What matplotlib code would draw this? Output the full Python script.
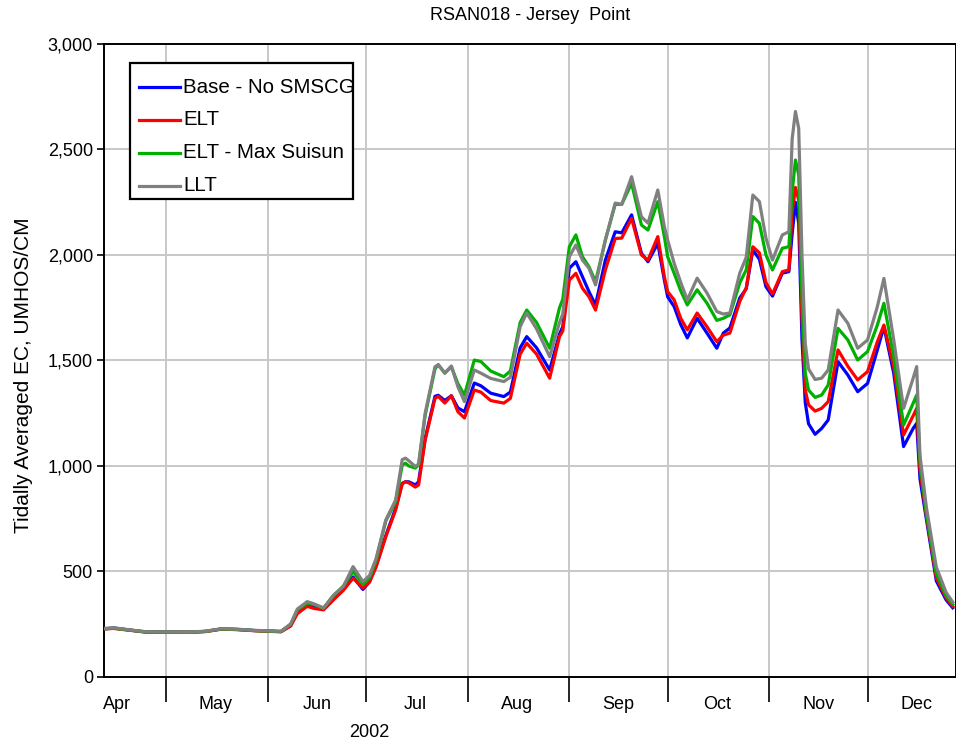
import matplotlib
matplotlib.use('Agg')
import matplotlib.pyplot as plt
import matplotlib.dates as mdates
from matplotlib.patches import Rectangle
from matplotlib.ticker import FuncFormatter, MultipleLocator
import numpy as np

plt.rcParams['font.family'] = ['Liberation Sans', 'DejaVu Sans']

# tidally averaged EC (2002)
dates = ['04-12', '04-15', '04-20', '04-25', '05-01', '05-08', '05-13', '05-18', '05-23', '05-28',
         '06-02', '06-05', '06-08', '06-10', '06-13', '06-15', '06-18', '06-21', '06-24', '06-27',
         '06-30', '07-02', '07-04', '07-07', '07-10', '07-12', '07-13', '07-14', '07-16', '07-17',
         '07-19', '07-22', '07-23', '07-25', '07-27', '07-29', '07-31', '08-03', '08-05', '08-08',
         '08-12', '08-14', '08-17', '08-19', '08-22', '08-26', '08-29', '08-30', '09-01', '09-03',
         '09-05', '09-07', '09-09', '09-12', '09-15', '09-17', '09-20', '09-23', '09-25', '09-28',
         '09-30', '10-01', '10-03', '10-05', '10-07', '10-10', '10-13', '10-16', '10-18', '10-20',
         '10-23', '10-25', '10-27', '10-29', '10-31', '11-02', '11-05', '11-07', '11-08', '11-09',
         '11-10', '11-11', '11-12', '11-13', '11-15', '11-17', '11-19', '11-22', '11-25', '11-28',
         '12-01', '12-04', '12-06', '12-09', '12-12', '12-15', '12-16', '12-17', '12-19', '12-22',
         '12-25', '12-27']

base = [228, 232, 222, 213, 214, 212, 216, 228, 225, 220,
        217, 215, 245, 310, 345, 335, 322, 370, 415, 474,
        415, 450, 525, 670, 800, 918, 925, 925, 910, 925,
        1130, 1330, 1335, 1310, 1333, 1275, 1257, 1393, 1380, 1345,
        1329, 1350, 1560, 1613, 1560, 1455, 1625, 1660, 1937, 1968,
        1897, 1826, 1763, 1976, 2110, 2105, 2190, 2008, 1968, 2055,
        1881, 1802, 1755, 1670, 1607, 1700, 1630, 1558, 1630, 1654,
        1796, 1840, 2024, 1980, 1850, 1805, 1914, 1921, 2100, 2250,
        2150, 1600, 1300, 1200, 1150, 1178, 1218, 1494, 1431, 1352,
        1391, 1550, 1660, 1439, 1092, 1180, 1202, 940, 744, 455,
        365, 328]

elt = [228, 230, 221, 212, 213, 212, 215, 227, 224, 219,
       216, 214, 242, 300, 335, 325, 318, 365, 410, 468,
       422, 450, 520, 665, 791, 915, 925, 920, 900, 910,
       1123, 1320, 1330, 1298, 1333, 1257, 1227, 1360, 1350, 1310,
       1298, 1320, 1530, 1582, 1530, 1416, 1613, 1640, 1881, 1913,
       1842, 1802, 1739, 1929, 2078, 2080, 2173, 2000, 1976, 2087,
       1897, 1826, 1787, 1700, 1645, 1725, 1660, 1589, 1620, 1630,
       1779, 1845, 2039, 2010, 1870, 1815, 1921, 1929, 2200, 2320,
       2260, 1700, 1360, 1290, 1260, 1273, 1305, 1550, 1472, 1408,
       1447, 1589, 1668, 1471, 1147, 1240, 1273, 980, 760, 470,
       375, 335]

elt_max = [228, 231, 222, 213, 214, 212, 216, 228, 225, 220,
           217, 216, 250, 318, 350, 343, 326, 385, 430, 500,
           440, 470, 550, 740, 830, 1005, 1013, 1000, 990, 1005,
           1240, 1460, 1480, 1440, 1470, 1390, 1336, 1502, 1495, 1450,
           1423, 1450, 1680, 1739, 1680, 1558, 1750, 1790, 2039, 2095,
           1992, 1944, 1873, 2071, 2240, 2240, 2340, 2142, 2118, 2253,
           2087, 1992, 1913, 1830, 1763, 1835, 1772, 1690, 1700, 1716,
           1867, 1930, 2182, 2150, 2000, 1929, 2032, 2039, 2300, 2450,
           2380, 1800, 1440, 1360, 1325, 1336, 1384, 1652, 1597, 1502,
           1542, 1668, 1771, 1518, 1194, 1300, 1336, 1020, 770, 490,
           385, 345]

llt = [230, 233, 223, 214, 214, 213, 217, 229, 226, 221,
       218, 216, 252, 322, 357, 347, 327, 387, 428, 523,
       452, 480, 560, 744, 839, 1030, 1037, 1025, 997, 1010,
       1250, 1470, 1480, 1440, 1474, 1375, 1305, 1455, 1440, 1415,
       1400, 1420, 1660, 1725, 1650, 1518, 1680, 1720, 1992, 2047,
       1976, 1937, 1858, 2071, 2246, 2240, 2371, 2181, 2151, 2308,
       2134, 2071, 1960, 1870, 1787, 1890, 1820, 1732, 1720, 1725,
       1913, 1990, 2284, 2253, 2080, 1976, 2095, 2110, 2550, 2680,
       2600, 2000, 1580, 1460, 1410, 1416, 1455, 1739, 1676, 1558,
       1597, 1755, 1889, 1597, 1273, 1420, 1471, 1050, 800, 520,
       400, 355]

names = ['Base - No SMSCG', 'ELT', 'ELT - Max Suisun', 'LLT']
colors = ['#0000ff', '#ff0000', '#00b000', '#808080']

x = np.array(['2002-' + d for d in dates], dtype='datetime64[D]')

fig = plt.figure(figsize=(9.56, 7.44), dpi=100)
ax = fig.add_axes([0.1088, 0.0901, 0.8912, 0.8508])

for ys, c in zip([base, elt, elt_max, llt], colors):
    ax.plot(x, ys, color=c, lw=2.3, zorder=3)

ax.set_xlim(np.datetime64('2002-04-12'), np.datetime64('2002-12-28'))
ax.set_ylim(0, 3000)

ax.yaxis.set_major_locator(MultipleLocator(500))
ax.yaxis.set_major_formatter(FuncFormatter(lambda v, p: f'{int(v):,}'))
ax.tick_params(axis='y', labelsize=13, length=5, width=1.2, direction='out', pad=3)

ax.xaxis.set_major_locator(mdates.MonthLocator())
ax.xaxis.set_major_formatter(plt.NullFormatter())
ax.xaxis.set_minor_locator(mdates.MonthLocator(bymonthday=16))
ax.xaxis.set_minor_formatter(mdates.DateFormatter('%b'))
ax.tick_params(axis='x', which='major', length=18, width=1.2, direction='out')
ax.tick_params(axis='x', which='minor', length=0, labelsize=13, pad=14)

ax.grid(True, which='major', color='#c8c8c8', lw=1.4)
ax.set_axisbelow(True)
for s in ax.spines.values():
    s.set_linewidth(1.4)

fig.text(0.5 * (104 + 956) / 956, 1 - 15 / 744, 'RSAN018 - Jersey  Point', fontsize=13,
         ha='center', va='center')
ax.set_ylabel('Tidally Averaged EC, UMHOS/CM', fontsize=15)
ax.yaxis.set_label_coords(-0.083, 0.477)
ax.text(mdates.date2num(np.datetime64('2002-07-02')), -0.0875, '2002', fontsize=13,
        ha='center', va='center', transform=ax.get_xaxis_transform())

# legend box drawn by hand so the long entry can run past the frame
ax.add_patch(Rectangle((0.0305, 0.755), 0.2615, 0.215, transform=ax.transAxes,
                       facecolor='white', edgecolor='black', lw=1.6, zorder=5))
for i, (n, c) in enumerate(zip(names, colors)):
    yy = 0.932 - i * 0.052
    ax.plot([0.041, 0.089], [yy, yy], color=c, lw=2.3, transform=ax.transAxes, zorder=6)
    ax.text(0.093, yy, n, fontsize=14.8, va='center', ha='left', transform=ax.transAxes, zorder=6)

fig.savefig('out.png', dpi=100)
